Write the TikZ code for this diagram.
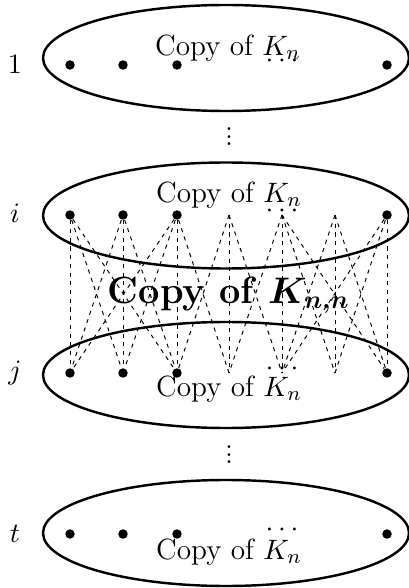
\documentclass[tikz,border=0pt]{standalone}
\usepackage{bm}
\usetikzlibrary{shapes.geometric}
\begin{document}
\begin{tikzpicture}[x=0.39pt,y=-0.39pt,
  font=\fontsize{11.4}{13.7}\selectfont,
  ell/.style={draw,ellipse,line width=0.95pt,inner sep=0pt,minimum width=366*0.39pt,minimum height=106*0.39pt},
  vtx/.style={circle,fill,inner sep=0pt,minimum size=3.7pt},
  edge/.style={line width=0.38pt,dash pattern=on 1.6pt off 1.8pt},
  lab/.style={inner sep=0pt}]
\useasboundingbox (0,0) rectangle (409,588);
% ellipses
\node[ell] (e1) at (226,58) {};
\node[ell] (ei) at (226,215.5) {};
\node[ell] (ej) at (226,375) {};
\node[ell] (et) at (226,533) {};
% row labels
\node[lab] (l1) at (15,64) {$1$};
\node[lab] (li) at (15,213) {$i$};
\node[lab] (lj) at (15,373) {$j$};
\node[lab] (lt) at (15,534) {$t$};
% vertices
\foreach \r/\y in {a/65,i/215,j/373,t/534}{
  \node[vtx] (\r1) at (70,\y) {};
  \node[vtx] (\r2) at (123,\y) {};
  \node[vtx] (\r3) at (177,\y) {};
  \coordinate (\r4) at (229,\y);
  \coordinate (\r5) at (282,\y);
  \coordinate (\r6) at (335,\y);
  \node[vtx] (\r7) at (387,\y) {};
  \node[lab,anchor=base] (d\r) at ([yshift=-1pt]\r5) {$\cdots$};
}
% texts
\node[lab] (c1) at (228,48) {Copy of $K_n$};
\node[lab] (ci) at (229,195) {Copy of $K_n$};
\node[lab] (cj) at (229,389) {Copy of $K_n$};
\node[lab] (ct) at (229,552) {Copy of $K_n$};
\node[lab] (big) at (229,295) {\fontsize{14.8}{17}\selectfont\bfseries Copy of $\bm{K_{n,n}}$};
% vertical dots
\node[lab] (v1) at (229,137) {\vbox{\baselineskip=2.9pt\lineskiplimit=-5pt\hbox{.}\hbox{.}\hbox{.}}};
\node[lab] (v2) at (229,455) {\vbox{\baselineskip=2.9pt\lineskiplimit=-5pt\hbox{.}\hbox{.}\hbox{.}}};
% edges
\foreach \a/\bs in {1/{1,2,3},2/{1,2,3},3/{1,2,3,4},4/{3,4,5},5/{4,5,6,7},6/{5,6,7},7/{5,6,7}}
  \foreach \b in \bs
    \draw[edge] (i\a) -- (j\b);
\end{tikzpicture}
\end{document}
